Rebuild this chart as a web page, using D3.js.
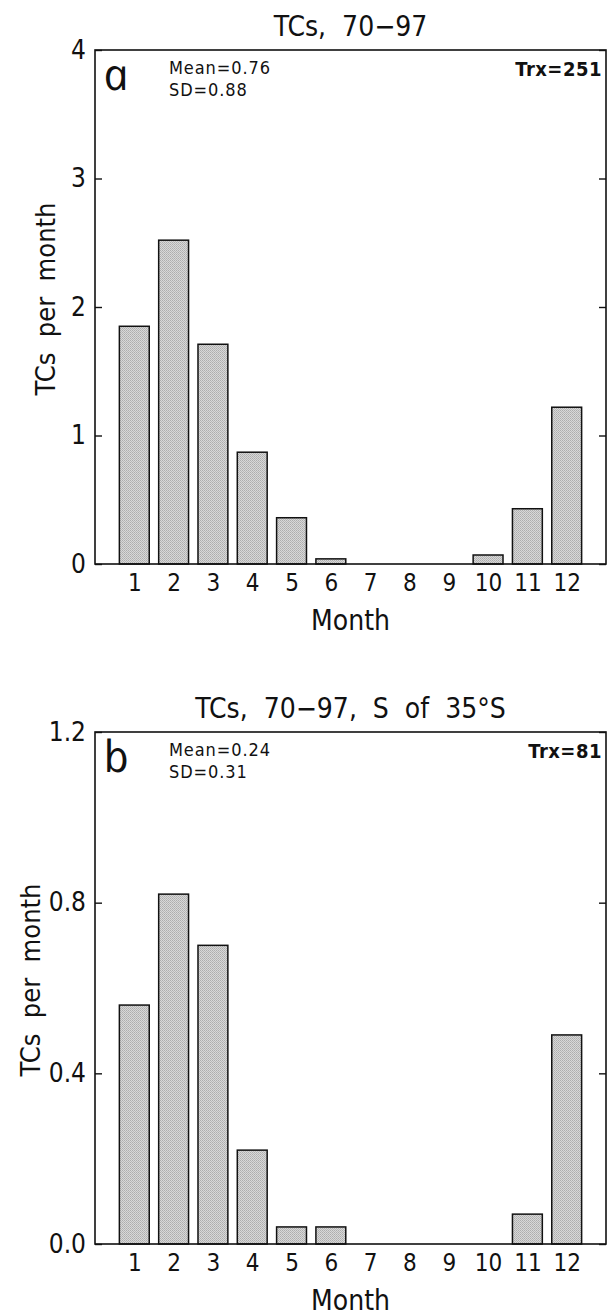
<!DOCTYPE html>
<html lang="en">
<head>
  <meta charset="UTF-8">
  <title>TCs per month</title>
  <script src="https://d3js.org/d3.v7.min.js"></script>
  <style>
    body { margin: 0; background: #fff; }
    text { font-family: "DejaVu Sans Condensed", "Liberation Sans Narrow", sans-serif; fill: #111; white-space: pre; }
    .frame { fill: none; stroke: #111; stroke-width: 1.6px; }
    .bar { stroke: #111; stroke-width: 1.5px; }
    .axis path { display: none; }
    .axis line { stroke: #111; stroke-width: 1.4px; }
    .letter { font-family: "Open Sans", "DejaVu Sans", sans-serif; font-style: italic; font-weight: 400; }
  </style>
</head>
<body>
  <svg id="viz" width="608" height="1316"></svg>

  <script>
    const months = [1, 2, 3, 4, 5, 6, 7, 8, 9, 10, 11, 12];
    // TCs per month, all tracks 1970-97
    const tcsAll = [1.85, 2.52, 1.71, 0.87, 0.36, 0.04, 0, 0, 0, 0.07, 0.43, 1.22];
    // TCs per month, tracks south of 35S
    const tcsSouth = [0.56, 0.82, 0.70, 0.22, 0.04, 0.04, 0, 0, 0, 0, 0.07, 0.49];
    const ticksAll = [0, 1, 2, 3, 4];
    const ticksSouth = [0, 0.4, 0.8, 1.2];

    const panels = [
      { letter: "a", title: "TCs,  70\u221297", values: tcsAll, ticks: ticksAll, fmt: d3.format("d"),
        mean: "Mean=0.76", sd: "SD=0.88", trx: "Trx=251", top: 50, bottom: 564, ylabX: 45 },
      { letter: "b", title: "TCs,  70\u221297,  S  of  35\u00b0S", values: tcsSouth, ticks: ticksSouth, fmt: d3.format(".1f"),
        mean: "Mean=0.24", sd: "SD=0.31", trx: "Trx=81", top: 732, bottom: 1244, ylabX: 30 }
    ];

    const svg = d3.select("#viz");
    const left = 95, right = 606;

    // halftone-ish grey fill like the printed bars
    const pat = svg.append("defs").append("pattern")
      .attr("id", "dots").attr("width", 2).attr("height", 2)
      .attr("patternUnits", "userSpaceOnUse");
    pat.append("rect").attr("width", 2).attr("height", 2).attr("fill", "#d8d8d8");
    pat.append("rect").attr("width", 1).attr("height", 1).attr("fill", "#adadad");
    pat.append("rect").attr("x", 1).attr("y", 1).attr("width", 1).attr("height", 1).attr("fill", "#b8b8b8");

    const x = d3.scaleLinear().domain([0, 13]).range([left, right]);
    const barW = x(0.76) - x(0);

    panels.forEach(p => {
      const y = d3.scaleLinear().domain([0, d3.max(p.ticks)]).range([p.bottom, p.top]);
      const g = svg.append("g");

      g.selectAll(".bar")
        .data(p.values.map((v, i) => ({ m: months[i], v })).filter(d => d.v > 0))
        .enter().append("rect")
        .attr("class", "bar")
        .attr("x", d => x(d.m) - barW / 2)
        .attr("y", d => y(d.v))
        .attr("width", barW)
        .attr("height", d => y(0) - y(d.v))
        .attr("fill", "url(#dots)");

      g.append("rect").attr("class", "frame")
        .attr("x", left).attr("y", p.top)
        .attr("width", right - left).attr("height", p.bottom - p.top);

      // inward ticks both sides, labels on the left only
      g.append("g").attr("class", "axis")
        .attr("transform", `translate(${left},0)`)
        .call(d3.axisLeft(y).tickValues(p.ticks).tickFormat(p.fmt).tickSize(-7).tickPadding(9))
        .selectAll("text").style("font-size", "26px");
      g.append("g").attr("class", "axis")
        .attr("transform", `translate(${right},0)`)
        .call(d3.axisRight(y).tickValues(p.ticks).tickFormat("").tickSize(-7));

      g.append("g").attr("class", "axis")
        .attr("transform", `translate(0,${p.bottom})`)
        .call(d3.axisBottom(x).tickValues(months).tickFormat(d3.format("d")).tickSize(0).tickPadding(10))
        .selectAll("text").style("font-size", "24px");

      g.append("text")
        .attr("x", (left + right) / 2).attr("y", p.top - 14)
        .attr("text-anchor", "middle")
        .style("font-size", "28px")
        .text(p.title);

      g.append("text")
        .attr("x", (left + right) / 2).attr("y", p.bottom + 66)
        .attr("text-anchor", "middle")
        .style("font-size", "28px")
        .text("Month");

      g.append("text")
        .attr("transform", `translate(${p.ylabX + 10},${(p.top + p.bottom) / 2 - 8}) rotate(-90)`)
        .attr("text-anchor", "middle")
        .style("font-size", "27px")
        .text("TCs  per  month");

      g.append("text")
        .attr("class", "letter")
        .attr("transform", `translate(106,${p.top + 40}) skewX(12)`)
        .style("font-size", "44px")
        .text(p.letter);

      g.append("text").attr("x", 169).attr("y", p.top + 24)
        .style("font-size", "18px").style("letter-spacing", "0.9px").text(p.mean);
      g.append("text").attr("x", 169).attr("y", p.top + 46)
        .style("font-size", "18px").style("letter-spacing", "0.9px").text(p.sd);
      g.append("text").attr("x", 602).attr("y", p.top + 26)
        .attr("text-anchor", "end")
        .style("font-size", "20px").style("font-weight", "bold").style("letter-spacing", "0.5px")
        .text(p.trx);
    });
  </script>
</body>
</html>
